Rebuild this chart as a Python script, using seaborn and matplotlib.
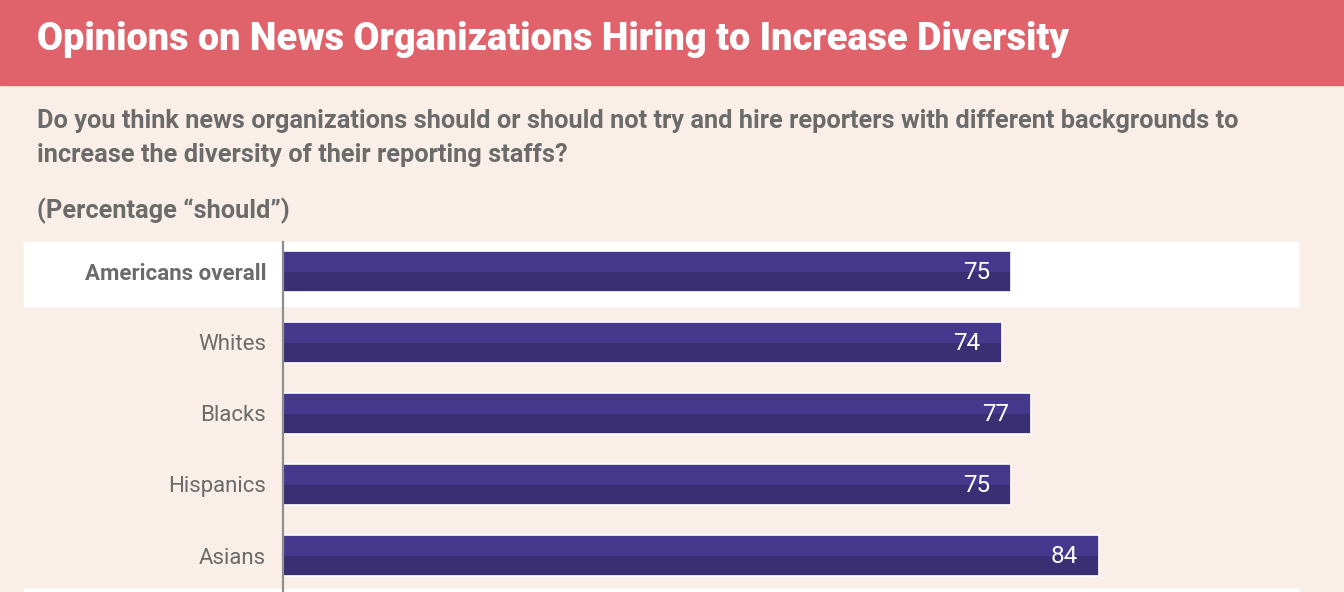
import matplotlib
matplotlib.use("Agg")
import matplotlib.pyplot as plt
import seaborn as sns
import pandas as pd
from matplotlib.patches import Rectangle

# ── DATA ───────────────────────────────────────────────────────
groups = ["Americans overall", "Whites", "Blacks", "Hispanics", "Asians"]
should_pct = [75, 74, 77, 75, 84]

TITLE = "Opinions on News Organizations Hiring to Increase Diversity"
QUESTION = ("Do you think news organizations should or should not try and hire reporters with different backgrounds to\n"
            "increase the diversity of their reporting staffs?")
NOTE = "(Percentage \u201cshould\u201d)"

# ── STYLE ──────────────────────────────────────────────────────
BG = "#FAEFE8"; BAND = "#E0636B"; GREY = "#6B6B6B"
BAR_LO = "#392F72"; BAR_HI = "#46398D"

sns.set_style("white")
plt.rcParams["font.family"] = ["Roboto", "DejaVu Sans"]

W, H = 1344, 592
fig = plt.figure(figsize=(W / 100, H / 100), dpi=100, facecolor=BG)

# title band
fig.patches.append(Rectangle((0, 1 - 85 / H), 1, 85 / H, transform=fig.transFigure,
                             color=BAND, zorder=0))
fig.text(37 / W, 1 - 39 / H, TITLE, color="white", fontsize=27.3, fontweight="black",
         va="center", ha="left")
fig.text(37 / W, 1 - 138 / H, QUESTION, color=GREY, fontsize=18.3, fontweight="bold",
         va="center", ha="left", linespacing=1.5)
fig.text(37 / W, 1 - 211 / H, NOTE, color=GREY, fontsize=18.3, fontweight="bold",
         va="center", ha="left")

# ── CHART ──────────────────────────────────────────────────────
x0, x1, ytop, ybot = 283, 1298, 242, 592
ax = fig.add_axes([x0 / W, 1 - ybot / H, (x1 - x0) / W, (ybot - ytop) / H])
ax.set_facecolor(BG)

df = pd.DataFrame({"group": groups, "pct": should_pct})
sns.barplot(data=df, y="group", x="pct", orient="h", color=BAR_LO, width=0.58,
            saturation=1, edgecolor="white", linewidth=1.2, ax=ax, zorder=3)

# lighter upper half of each bar
for p in list(ax.patches):
    ax.add_patch(Rectangle((p.get_x(), p.get_y() + 0.01), p.get_width() - 0.1,
                           p.get_height() / 2, color=BAR_HI, lw=0, zorder=4))

ax.set_xlim(0, 104.5)
ax.set_ylim(4.514, -0.415)

# highlighted row for the overall figure
xl = (24 - x0) / (x1 - x0)
ax.axhspan(-0.415, 0.49, xmin=xl, xmax=1, color="white", zorder=0, clip_on=False)
ax.axhspan(4.47, 4.6, xmin=xl, xmax=1, color="white", zorder=0, clip_on=False)

for i, v in enumerate(should_pct):
    ax.text(v - 2.2, i + 0.02, f"{v}", color="white", fontsize=17.5,
            ha="right", va="center", zorder=5)

ax.set_xlabel(""); ax.set_ylabel("")
ax.set_xticks([])
ax.tick_params(axis="y", length=0, pad=12, labelsize=16, labelcolor=GREY)
for lbl in ax.get_yticklabels():
    if lbl.get_text() == "Americans overall":
        lbl.set_fontweight("bold")

for s in ["top", "right", "bottom"]:
    ax.spines[s].set_visible(False)
ax.spines["left"].set_color("#8E8E8E")
ax.spines["left"].set_linewidth(1.6)
ax.spines["left"].set_zorder(6)

fig.savefig("out.png", dpi=100, facecolor=BG)
